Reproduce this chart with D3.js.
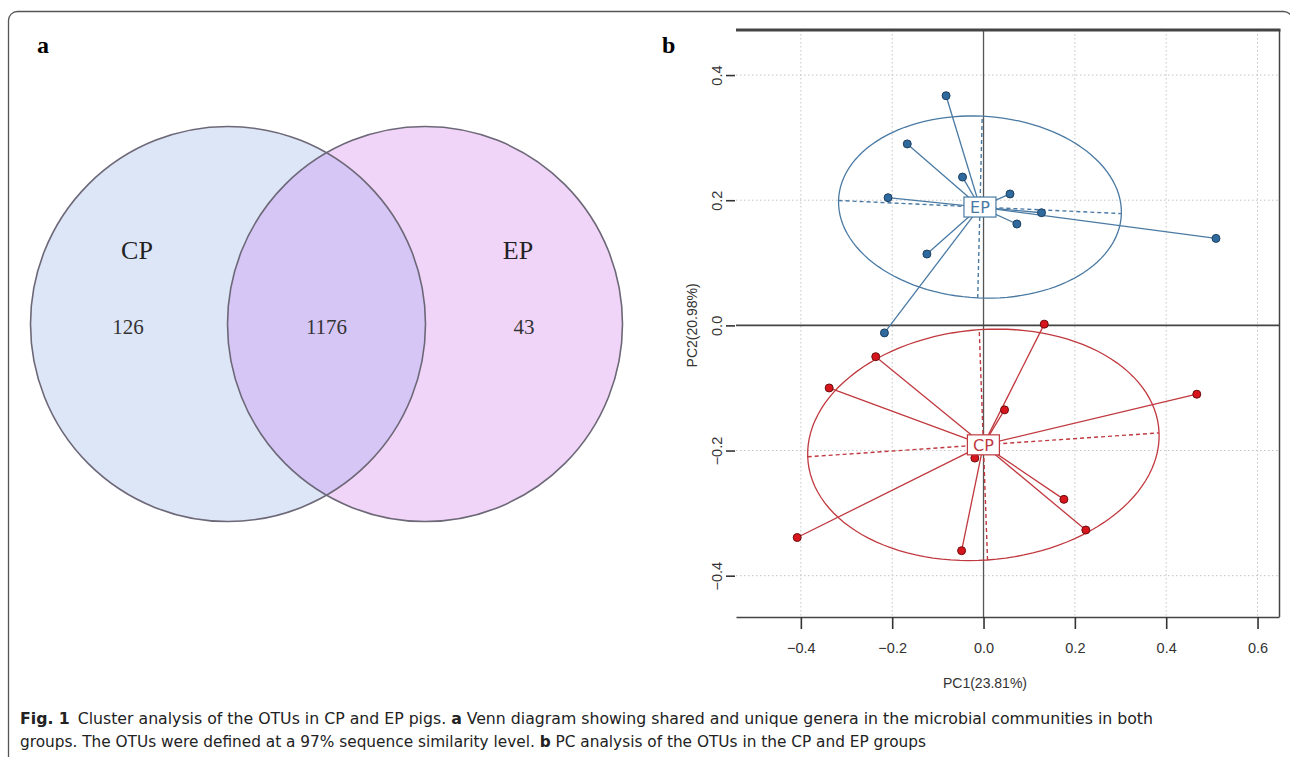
<!DOCTYPE html>
<html>
<head>
<meta charset="utf-8">
<script src="https://cdn.jsdelivr.net/npm/d3@7"></script>
<style>
  body { margin: 0; background: #fff; }
  svg { display: block; }
</style>
</head>
<body>
<div id="chart"></div>
<script>
// venn counts: CP only, shared, EP only
const vennSets = ["CP", "EP"];
const vennCounts = [126, 1176, 43];

// PCA scores
const epX = [-0.082, -0.167, -0.046, -0.209, 0.058, 0.127, 0.073, -0.124, 0.509, -0.217];
const epY = [0.367, 0.290, 0.237, 0.204, 0.210, 0.180, 0.162, 0.114, 0.139, -0.012];
const cpX = [-0.236, -0.338, -0.408, -0.048, -0.019, 0.133, 0.046, 0.467, 0.176, 0.224];
const cpY = [-0.050, -0.100, -0.339, -0.360, -0.212, 0.002, -0.135, -0.110, -0.278, -0.327];

const xTicks = [-0.4, -0.2, 0.0, 0.2, 0.4, 0.6];
const yTicks = [-0.4, -0.2, 0.0, 0.2, 0.4];
const xTitle = "PC1(23.81%)";
const yTitle = "PC2(20.98%)";

const W = 1290, H = 757;
const svg = d3.select("#chart").append("svg")
    .attr("width", W)
    .attr("height", H);

svg.append("rect").attr("width", W).attr("height", H).attr("fill", "#fff");

// outer frame (runs off the right and bottom edges)
svg.append("rect")
    .attr("x", 8.5).attr("y", 11.5)
    .attr("width", 1284).attr("height", 780)
    .attr("rx", 9)
    .attr("fill", "none")
    .attr("stroke", "#555")
    .attr("stroke-width", 1.3);

// panel letters
svg.append("text").attr("x", 37).attr("y", 53).text("a")
    .attr("font-family", "Liberation Serif").attr("font-weight", "bold").attr("font-size", 24);
svg.append("text").attr("x", 662).attr("y", 53).text("b")
    .attr("font-family", "Liberation Serif").attr("font-weight", "bold").attr("font-size", 24);

// ---------- panel a : venn ----------
const r = 197.5;
const cyV = 324;
const cxL = 228, cxR = 425;
const venn = svg.append("g");

venn.append("circle").attr("cx", cxL).attr("cy", cyV).attr("r", r).attr("fill", "#dde6f7");
venn.append("circle").attr("cx", cxR).attr("cy", cyV).attr("r", r).attr("fill", "#f1d5f9");

const defs = svg.append("defs");
defs.append("clipPath").attr("id", "clipL")
    .append("circle").attr("cx", cxL).attr("cy", cyV).attr("r", r);
venn.append("circle").attr("cx", cxR).attr("cy", cyV).attr("r", r)
    .attr("clip-path", "url(#clipL)")
    .attr("fill", "#d5c6f6");

[cxL, cxR].forEach(cx => {
  venn.append("circle").attr("cx", cx).attr("cy", cyV).attr("r", r)
      .attr("fill", "none").attr("stroke", "#6d6878").attr("stroke-width", 1.6);
});

const serif = "Liberation Serif";
venn.append("text").attr("x", 137).attr("y", 259).attr("text-anchor", "middle")
    .attr("font-family", serif).attr("font-size", 26).attr("fill", "#222").text(vennSets[0]);
venn.append("text").attr("x", 518).attr("y", 259).attr("text-anchor", "middle")
    .attr("font-family", serif).attr("font-size", 26).attr("fill", "#222").text(vennSets[1]);
const numX = [128, (cxL + cxR) / 2, 524];
vennCounts.forEach((c, i) => {
  venn.append("text").attr("x", numX[i]).attr("y", 334).attr("text-anchor", "middle")
      .attr("font-family", serif).attr("font-size", 21).attr("fill", "#333").text(c);
});

// ---------- panel b : PCA ----------
const x = d3.scaleLinear().domain([-0.542, 0.647]).range([736, 1279]);
const y = d3.scaleLinear().domain([-0.466, 0.472]).range([617, 30]);
const pb = svg.append("g");

// dotted grid
pb.selectAll(".gx").data(xTicks.filter(d => d !== 0)).enter().append("line")
    .attr("x1", d => x(d)).attr("x2", d => x(d))
    .attr("y1", y.range()[1]).attr("y2", y.range()[0])
    .attr("stroke", "#c4c4c4").attr("stroke-dasharray", "1.5,2.5");
pb.selectAll(".gy").data(yTicks.filter(d => d !== 0)).enter().append("line")
    .attr("x1", x.range()[0]).attr("x2", x.range()[1])
    .attr("y1", d => y(d)).attr("y2", d => y(d))
    .attr("stroke", "#c4c4c4").attr("stroke-dasharray", "1.5,2.5");

// zero lines
pb.append("line").attr("x1", x(0)).attr("x2", x(0)).attr("y1", y.range()[1]).attr("y2", y.range()[0])
    .attr("stroke", "#555").attr("stroke-width", 1.3);
pb.append("line").attr("x1", x.range()[0]).attr("x2", x.range()[1]).attr("y1", y(0)).attr("y2", y(0))
    .attr("stroke", "#444").attr("stroke-width", 1.6);

// group ellipse, axes, star, points and label (like ade4 s.class, cellipse 1.5)
function drawGroup(xs, ys, name, col, ptFill, ptStroke) {
  const n = xs.length;
  const mx = d3.mean(xs), my = d3.mean(ys);
  const a = d3.sum(xs, v => (v - mx) * (v - mx)) / n;
  const c = d3.sum(ys, v => (v - my) * (v - my)) / n;
  const b = d3.sum(xs.map((v, i) => (v - mx) * (ys[i] - my))) / n;
  const half = (a + c) / 2, dif = Math.sqrt(((a - c) / 2) ** 2 + b * b);
  const l1 = half + dif, l2 = half - dif;
  const th = 0.5 * Math.atan2(2 * b, a - c);
  const r1 = 1.5 * Math.sqrt(l1), r2 = 1.5 * Math.sqrt(l2);
  const u = [Math.cos(th), Math.sin(th)], v = [-Math.sin(th), Math.cos(th)];

  const ell = d3.range(0, 361, 3).map(t => {
    const k = t * Math.PI / 180;
    return [mx + Math.cos(k) * r1 * u[0] + Math.sin(k) * r2 * v[0],
            my + Math.cos(k) * r1 * u[1] + Math.sin(k) * r2 * v[1]];
  });
  const g = pb.append("g");
  g.append("path")
      .attr("d", d3.line().x(d => x(d[0])).y(d => y(d[1]))(ell))
      .attr("fill", "none").attr("stroke", col).attr("stroke-width", 1.3);

  [[u, r1], [v, r2]].forEach(([dir, rr]) => {
    g.append("line")
        .attr("x1", x(mx - dir[0] * rr)).attr("y1", y(my - dir[1] * rr))
        .attr("x2", x(mx + dir[0] * rr)).attr("y2", y(my + dir[1] * rr))
        .attr("stroke", col).attr("stroke-width", 1.4).attr("stroke-dasharray", "4,3");
  });

  g.selectAll(".star").data(xs).enter().append("line")
      .attr("x1", x(mx)).attr("y1", y(my))
      .attr("x2", d => x(d)).attr("y2", (d, i) => y(ys[i]))
      .attr("stroke", col).attr("stroke-width", 1.3);

  g.selectAll(".pt").data(xs).enter().append("circle")
      .attr("cx", d => x(d)).attr("cy", (d, i) => y(ys[i]))
      .attr("r", 4)
      .attr("fill", ptFill).attr("stroke", ptStroke).attr("stroke-width", 1);

  const lbl = g.append("g").attr("transform", `translate(${x(mx)},${y(my)})`);
  lbl.append("rect").attr("x", -16).attr("y", -10).attr("width", 32).attr("height", 20)
      .attr("fill", "#fff").attr("stroke", col).attr("stroke-width", 1.2);
  lbl.append("text").attr("text-anchor", "middle").attr("dy", "0.36em")
      .attr("font-family", "DejaVu Sans").attr("font-size", 16).attr("fill", col).text(name);
}

drawGroup(epX, epY, "EP", "#4a7aa3", "#2f6a9e", "#1d3f60");
drawGroup(cpX, cpY, "CP", "#c0393f", "#d8141c", "#6a1010");

// frame: thick top, right side
pb.append("line").attr("x1", 736).attr("x2", 1280.5).attr("y1", 30).attr("y2", 30)
    .attr("stroke", "#444").attr("stroke-width", 3);
pb.append("line").attr("x1", 1279.5).attr("x2", 1279.5).attr("y1", 30).attr("y2", 617)
    .attr("stroke", "#444").attr("stroke-width", 1.5);

// axes
const ax = pb.append("g").attr("transform", "translate(0,617)")
    .call(d3.axisBottom(x).tickValues(xTicks).tickFormat(d3.format(".1f")).tickSize(12).tickSizeOuter(0).tickPadding(14));
ax.select(".domain").attr("stroke", "#444").attr("stroke-width", 1.6);
ax.selectAll(".tick line").attr("stroke", "#333").attr("stroke-width", 1.6);
ax.selectAll("text").attr("font-family", "Liberation Sans").attr("font-size", 14.5).attr("fill", "#333");

const ay = pb.append("g").attr("transform", "translate(735,0)")
    .call(d3.axisLeft(y).tickValues(yTicks).tickFormat(d3.format(".1f")).tickSize(9).tickSizeOuter(0));
ay.select(".domain").remove();
ay.selectAll(".tick line").attr("stroke", "#333").attr("stroke-width", 1.6);
ay.selectAll("text")
    .attr("x", 0).attr("dy", "0.35em")
    .attr("text-anchor", "middle")
    .attr("transform", "translate(-18,0) rotate(-90)")
    .attr("font-family", "Liberation Sans").attr("font-size", 14.5).attr("fill", "#333");

pb.append("text").attr("x", 985).attr("y", 688).attr("text-anchor", "middle")
    .attr("font-family", "Liberation Sans").attr("font-size", 14).attr("fill", "#333").text(xTitle);
pb.append("text").attr("transform", `translate(692,${y(0)}) rotate(-90)`)
    .attr("text-anchor", "middle").attr("dy", "0.35em")
    .attr("font-family", "Liberation Sans").attr("font-size", 14).attr("fill", "#333").text(yTitle);

// ---------- caption ----------
const cap = svg.append("g").attr("font-family", "DejaVu Sans Condensed, Liberation Sans Narrow, sans-serif")
    .attr("font-stretch", "condensed")
    .attr("font-size", 16.5).attr("fill", "#222");
const line1 = cap.append("text").attr("x", 20).attr("y", 724)
    .attr("textLength", 1133).attr("lengthAdjust", "spacingAndGlyphs");
line1.append("tspan").attr("font-weight", "bold").text("Fig. 1");
line1.append("tspan").text("\u2002Cluster analysis of the OTUs in CP and EP pigs. ");
line1.append("tspan").attr("font-weight", "bold").text("a");
line1.append("tspan").text(" Venn diagram showing shared and unique genera in the microbial communities in both");
const line2 = cap.append("text").attr("x", 20).attr("y", 747)
    .attr("textLength", 906).attr("lengthAdjust", "spacingAndGlyphs");
line2.append("tspan").text("groups. The OTUs were defined at a 97% sequence similarity level. ");
line2.append("tspan").attr("font-weight", "bold").text("b");
line2.append("tspan").text(" PC analysis of the OTUs in the CP and EP groups");
</script>
</body>
</html>
